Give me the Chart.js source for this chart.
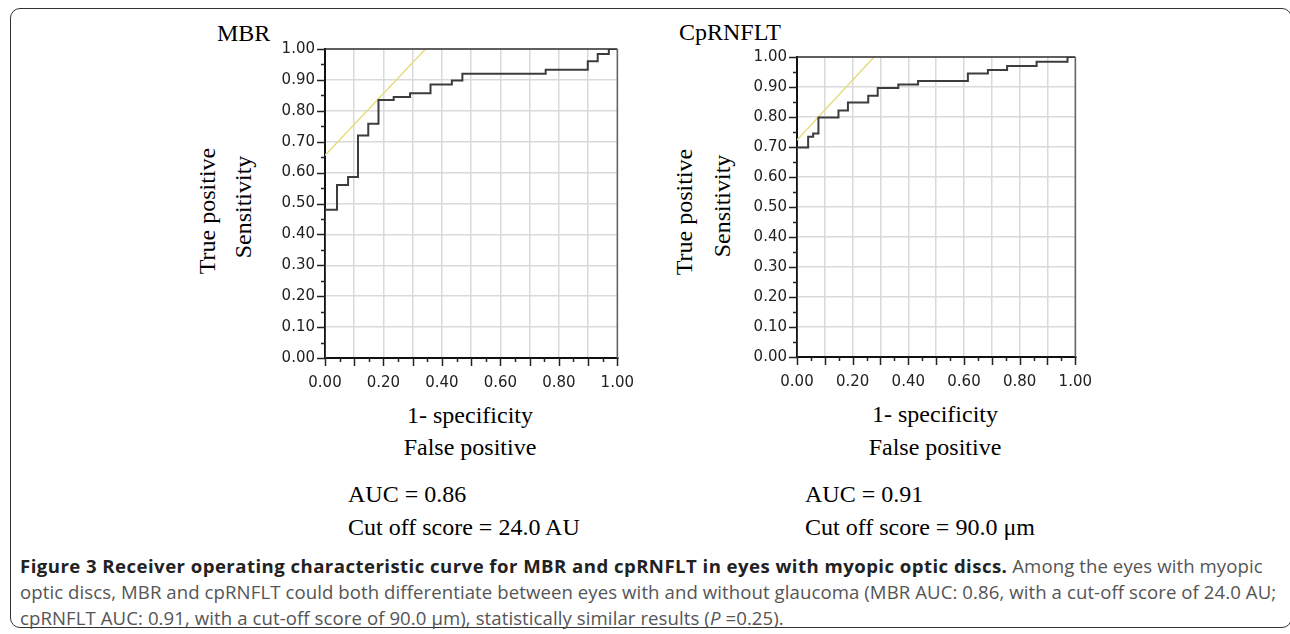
<!DOCTYPE html>
<html>
<head>
<meta charset="utf-8">
<script src="https://cdn.jsdelivr.net/npm/chart.js@4/dist/chart.umd.min.js"></script>
<style>
  html, body { margin: 0; padding: 0; background: #fff; }
  body { width: 1290px; height: 634px; position: relative; overflow: hidden; }
  .frame {
    position: absolute; left: 10px; top: 8px; width: 1282px; height: 620px;
    border: 1.5px solid #333; border-radius: 10px; box-sizing: border-box;
  }
  .serif { position: absolute; font-family: "Liberation Serif", "Times New Roman", serif;
           font-size: 24px; line-height: 24px; color: #000; white-space: nowrap; }
  .center { transform: translateX(-50%); }
  .rot { transform: translate(-50%, -50%) rotate(-90deg); }
  canvas { position: absolute; }
  .caption { position: absolute; left: 20px; top: 553px; font-family: "Open Sans", sans-serif;
             font-size: 18.6px; line-height: 26px; color: #555; white-space: nowrap;
             letter-spacing: 0.08px; }
  .caption b { color: #222; font-weight: 700; letter-spacing: 0.45px; }
</style>
</head>
<body>
<div class="frame"></div>

<div class="serif" style="left:217px; top:21px;">MBR</div>
<div class="serif" style="left:679px; top:20px;">CpRNFLT</div>

<div class="serif rot" style="left:207px; top:211px;">True positive</div>
<div class="serif rot" style="left:243px; top:207px;">Sensitivity</div>
<div class="serif rot" style="left:684px; top:212px;">True positive</div>
<div class="serif rot" style="left:722px; top:206px;">Sensitivity</div>

<div class="serif center" style="left:470px; top:403px;">1- specificity</div>
<div class="serif center" style="left:470px; top:435px;">False positive</div>
<div class="serif center" style="left:935px; top:402px;">1- specificity</div>
<div class="serif center" style="left:935px; top:435px;">False positive</div>

<div class="serif" style="left:348px; top:482px;">AUC = 0.86</div>
<div class="serif" style="left:348px; top:515px;">Cut off score = 24.0 AU</div>
<div class="serif" style="left:805px; top:482px;">AUC = 0.91</div>
<div class="serif" style="left:805px; top:515px;">Cut off score = 90.0 μm</div>

<canvas id="mbrChart" style="left:270px; top:30px;"></canvas>
<canvas id="cpChart" style="left:742px; top:38px;"></canvas>

<div class="caption"><b>Figure 3 Receiver operating characteristic curve for MBR and cpRNFLT in eyes with myopic optic discs.</b> Among the eyes with myopic<br>optic discs, MBR and cpRNFLT could both differentiate between eyes with and without glaucoma (MBR AUC: 0.86, with a cut-off score of 24.0 AU;<br>cpRNFLT AUC: 0.91, with a cut-off score of 90.0 μm), statistically similar results (<i>P</i> =0.25).</div>

<script>
// ROC step corners (1 - specificity, sensitivity)
const mbrFpr = [0, 0, 0.041, 0.079, 0.113, 0.148, 0.183, 0.235, 0.291, 0.361, 0.434, 0.47, 0.755, 0.899, 0.933, 0.971, 1.0];
const mbrTpr = [0, 0.48, 0.56, 0.586, 0.72, 0.758, 0.835, 0.845, 0.857, 0.885, 0.898, 0.92, 0.933, 0.96, 0.984, 1.0, 1.0];
const mbrTangentFpr = [0, 0.344];
const mbrTangentTpr = [0.656, 1.0];

const cpFpr = [0, 0, 0.04, 0.058, 0.077, 0.149, 0.183, 0.256, 0.29, 0.364, 0.435, 0.614, 0.686, 0.755, 0.861, 0.972, 1.0];
const cpTpr = [0, 0.698, 0.734, 0.745, 0.798, 0.822, 0.848, 0.871, 0.897, 0.908, 0.92, 0.945, 0.957, 0.97, 0.984, 1.0, 1.0];
const cpTangentFpr = [0, 0.277];
const cpTangentTpr = [0.723, 1.0];

const xLabelStep = 20;   // label every 0.20 on x
const yLabelStep = 10;   // label every 0.10 on y

const GRID = '#dadada';
const CURVE = '#3c3c3c';
const TANGENT = '#e6dd7e';

function toPoints(xs, ys) {
    return xs.map((x, i) => ({ x: x, y: ys[i] }));
}

function hundredths(v) {
    return Math.round(v * 100);
}

// Tick marks (major every 0.1, minor every 0.05) plus the top/right frame
const axisTicksPlugin = {
    id: 'axisTicks',
    afterDraw(chart) {
        const { ctx, chartArea: { top, bottom, left, right }, scales: { x, y } } = chart;
        ctx.save();
        ctx.strokeStyle = '#222';
        ctx.lineWidth = 1.5;
        ctx.beginPath();
        y.ticks.forEach(t => {
            const py = Math.round(y.getPixelForValue(t.value)) + 0.5;
            const len = hundredths(t.value) % 10 === 0 ? 8 : 4;
            ctx.moveTo(left - len, py);
            ctx.lineTo(left, py);
        });
        x.ticks.forEach(t => {
            const px = Math.round(x.getPixelForValue(t.value)) + 0.5;
            const len = hundredths(t.value) % 10 === 0 ? 8 : 4;
            ctx.moveTo(px, bottom);
            ctx.lineTo(px, bottom + len);
        });
        ctx.stroke();

        // top and right edges of the plot box
        ctx.beginPath();
        ctx.strokeStyle = '#333';
        ctx.moveTo(left, top);
        ctx.lineTo(right, top);
        ctx.stroke();
        ctx.beginPath();
        ctx.strokeStyle = '#666';
        ctx.moveTo(right, top);
        ctx.lineTo(right, bottom);
        ctx.stroke();
        ctx.restore();
    }
};

function makeRoc(canvasId, width, height, fpr, tpr, tanX, tanY) {
    const canvas = document.getElementById(canvasId);
    canvas.width = width;
    canvas.height = height;
    canvas.style.width = width + 'px';
    canvas.style.height = height + 'px';

    return new Chart(canvas.getContext('2d'), {
        type: 'scatter',
        data: {
            datasets: [{
                data: toPoints(fpr, tpr),
                showLine: true,
                stepped: 'before',   // horizontal run, then vertical rise
                borderColor: CURVE,
                borderWidth: 2,
                pointRadius: 0,
                order: 1
            }, {
                data: toPoints(tanX, tanY),
                showLine: true,
                borderColor: TANGENT,
                borderWidth: 1.5,
                pointRadius: 0,
                order: 2
            }]
        },
        options: {
            responsive: false,
            animation: false,
            devicePixelRatio: 1,
            layout: { padding: { top: 18, right: 16, left: 0, bottom: 0 } },
            plugins: {
                legend: { display: false },
                tooltip: { enabled: false }
            },
            scales: {
                x: {
                    type: 'linear',
                    min: 0,
                    max: 1,
                    afterFit: (s) => { s.height = 30; },
                    ticks: {
                        stepSize: 0.05,
                        autoSkip: false,
                        maxRotation: 0,
                        padding: 16,
                        color: '#222',
                        font: { family: 'DejaVu Sans', size: 15 },
                        callback: (v) => hundredths(v) % xLabelStep === 0 ? v.toFixed(2) : ''
                    },
                    grid: {
                        drawTicks: false,
                        lineWidth: 1.5,
                        color: (c) => hundredths(c.tick.value) % 10 === 0 ? GRID : 'rgba(0,0,0,0)'
                    },
                    border: { display: true, color: '#111', width: 2 }
                },
                y: {
                    type: 'linear',
                    min: 0,
                    max: 1,
                    afterFit: (s) => { s.width = 55; },
                    ticks: {
                        stepSize: 0.05,
                        autoSkip: false,
                        padding: 10,
                        color: '#222',
                        font: { family: 'DejaVu Sans', size: 15 },
                        callback: (v) => hundredths(v) % yLabelStep === 0 ? v.toFixed(2) : ''
                    },
                    grid: {
                        drawTicks: false,
                        lineWidth: 1.5,
                        color: (c) => hundredths(c.tick.value) % 10 === 0 ? GRID : 'rgba(0,0,0,0)'
                    },
                    border: { display: true, color: '#111', width: 2 }
                }
            }
        },
        plugins: [axisTicksPlugin]
    });
}

makeRoc('mbrChart', 380, 358, mbrFpr, mbrTpr, mbrTangentFpr, mbrTangentTpr);
makeRoc('cpChart', 366, 349, cpFpr, cpTpr, cpTangentFpr, cpTangentTpr);
</script>
</body>
</html>
